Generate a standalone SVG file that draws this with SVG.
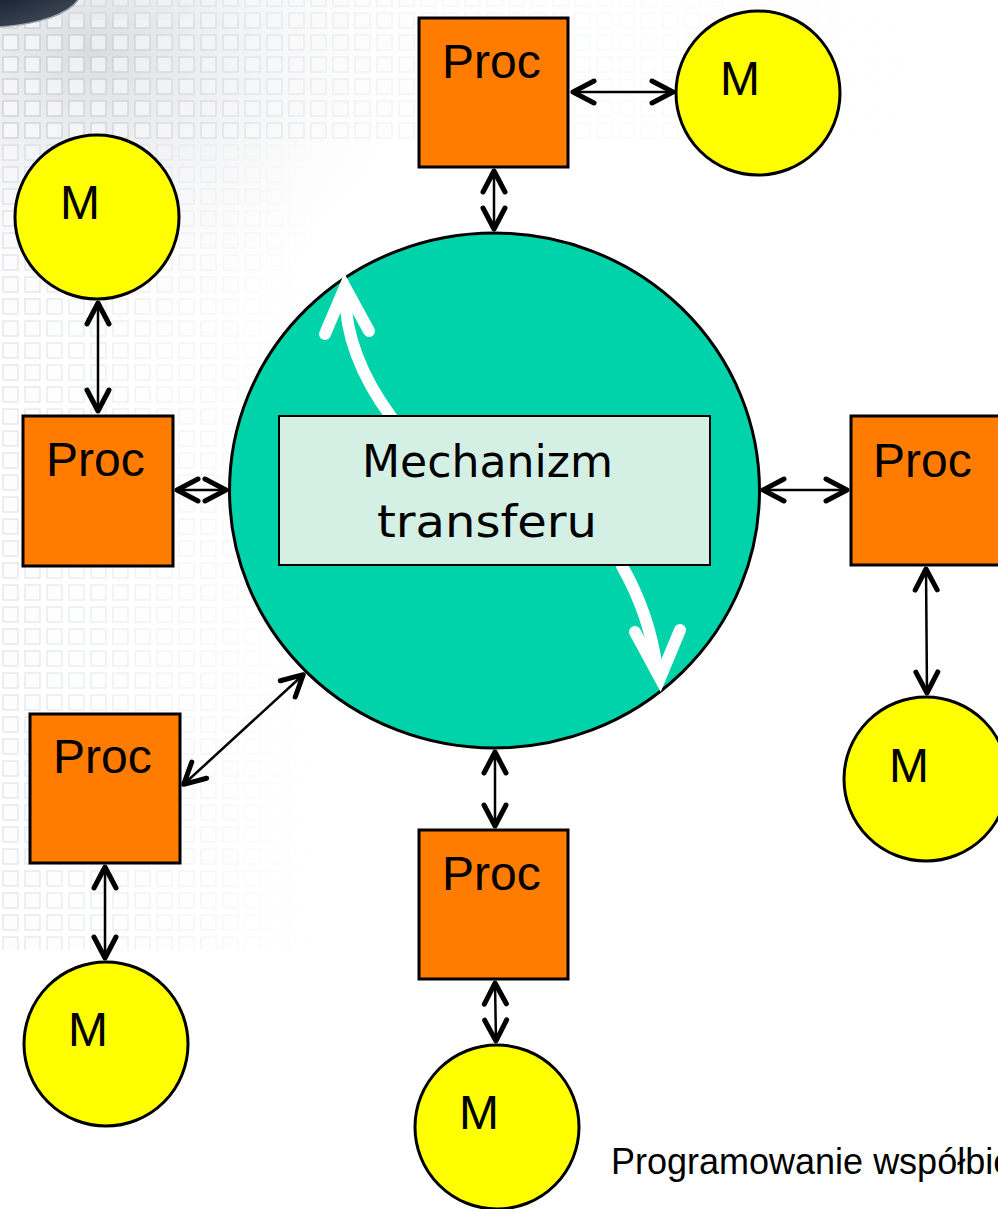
<svg xmlns="http://www.w3.org/2000/svg" width="998" height="1209" viewBox="0 0 998 1209">
<style>
.proc{fill:#FF7C00;stroke:#000;stroke-width:3}
.mem{fill:#FFFF00;stroke:#000;stroke-width:3}
.lbl{font-family:"Liberation Sans",Arial,sans-serif;font-size:48px;fill:#000}
.mech{font-family:"DejaVu Sans","Liberation Sans",sans-serif;font-size:44px;fill:#000}
.conn{stroke:#000;stroke-width:2.5;fill:none;marker-start:url(#head);marker-end:url(#head)}
.white{stroke:#fff;stroke-width:12;fill:none;stroke-linecap:round;stroke-linejoin:miter}
</style>
<defs>
<marker id="head" viewBox="-26 -15 30 30" refX="1" refY="0" markerWidth="30" markerHeight="30" markerUnits="userSpaceOnUse" orient="auto-start-reverse">
<path d="M-21,-11 L0,0 L-21,11" fill="none" stroke="#000" stroke-width="5" stroke-linecap="round" stroke-linejoin="round"/>
</marker>
<pattern id="grid" x="0" y="10" width="22" height="22" patternUnits="userSpaceOnUse">
<rect x="3" y="3" width="15" height="15" fill="#fafbfd" stroke="#b9bec8" stroke-width="1.2"/>
</pattern>
<linearGradient id="fadeX" x1="0" y1="0" x2="1" y2="0">
<stop offset="0" stop-color="#fff" stop-opacity="0.45"/>
<stop offset="0.6" stop-color="#fff" stop-opacity="0.18"/>
<stop offset="1" stop-color="#fff" stop-opacity="0"/>
</linearGradient>
<linearGradient id="fadeTop" x1="0" y1="0" x2="1" y2="0">
<stop offset="0" stop-color="#fff" stop-opacity="0.45"/>
<stop offset="0.5" stop-color="#fff" stop-opacity="0.15"/>
<stop offset="1" stop-color="#fff" stop-opacity="0"/>
</linearGradient>
<mask id="gridMask" maskUnits="userSpaceOnUse" x="0" y="0" width="998" height="1209">
<rect x="0" y="20" width="320" height="930" fill="url(#fadeX)"/>
<rect x="0" y="0" width="960" height="140" fill="url(#fadeTop)"/>
</mask>
<radialGradient id="shade" cx="0.15" cy="0.1" r="0.6">
<stop offset="0" stop-color="#c9ccd2" stop-opacity="0.7"/>
<stop offset="1" stop-color="#ffffff" stop-opacity="0"/>
</radialGradient>
<linearGradient id="dark" x1="0" y1="0" x2="1" y2="1">
<stop offset="0" stop-color="#1c2533"/>
<stop offset="1" stop-color="#4b5563"/>
</linearGradient>
</defs>
<rect x="0" y="0" width="998" height="1209" fill="#fff"/>
<rect x="0" y="0" width="600" height="500" fill="url(#shade)"/>
<rect x="0" y="0" width="998" height="1000" fill="url(#grid)" mask="url(#gridMask)"/>
<path d="M0,0 L78,0 C68,14 40,24 0,27 Z" fill="url(#dark)"/>
<path d="M78,0 C68,14 40,24 0,27" fill="none" stroke="#9aa3ae" stroke-width="1.5"/>

<g id="transfer">
<ellipse cx="494.5" cy="490.5" rx="265" ry="257.5" fill="#00D2AA" stroke="#000" stroke-width="3"/>
<path class="white" d="M392,418 Q345,355 345,292"/>
<path class="white" d="M325,334 L345,287 L369,331"/>
<path class="white" d="M622,566 Q650,615 657,670"/>
<path class="white" d="M635,632 L660,678 L680,630"/>
<rect x="279" y="416" width="431" height="149" fill="#D4EFE4" stroke="#000" stroke-width="2"/>
<text class="mech" x="362" y="477" textLength="251" lengthAdjust="spacingAndGlyphs">Mechanizm</text>
<text class="mech" x="377" y="537" textLength="220" lengthAdjust="spacingAndGlyphs">transferu</text>
</g>

<g id="proc-top"><rect class="proc" x="419" y="18" width="149" height="149"/><text class="lbl" x="442" y="78">Proc</text></g>
<g id="proc-left"><rect class="proc" x="23" y="416" width="150" height="150"/><text class="lbl" x="46" y="476">Proc</text></g>
<g id="proc-right"><rect class="proc" x="851" y="416" width="160" height="149"/><text class="lbl" x="873" y="477">Proc</text></g>
<g id="proc-bottomleft"><rect class="proc" x="30" y="714" width="150" height="149"/><text class="lbl" x="53" y="773">Proc</text></g>
<g id="proc-bottom"><rect class="proc" x="419" y="830" width="149" height="149"/><text class="lbl" x="442" y="890">Proc</text></g>

<g id="mem-topright"><circle class="mem" cx="758" cy="93" r="82"/><text class="lbl" x="720" y="95">M</text></g>
<g id="mem-left"><circle class="mem" cx="97" cy="217" r="82"/><text class="lbl" x="60" y="219">M</text></g>
<g id="mem-right"><circle class="mem" cx="926" cy="779" r="82"/><text class="lbl" x="889" y="782">M</text></g>
<g id="mem-bottomleft"><circle class="mem" cx="106" cy="1044" r="82"/><text class="lbl" x="68" y="1046">M</text></g>
<g id="mem-bottom"><circle class="mem" cx="497" cy="1127" r="82"/><text class="lbl" x="459" y="1129">M</text></g>

<g id="connectors">
<line class="conn" x1="572" y1="92" x2="674" y2="92"/>
<line class="conn" x1="494" y1="170" x2="494" y2="230"/>
<line class="conn" x1="98" y1="302" x2="98" y2="412"/>
<line class="conn" x1="176" y1="490" x2="227" y2="490"/>
<line class="conn" x1="762" y1="490" x2="848" y2="490"/>
<line class="conn" x1="926" y1="568" x2="927" y2="694"/>
<line class="conn" x1="183" y1="785" x2="304" y2="674"/>
<line class="conn" x1="105" y1="866" x2="105" y2="959"/>
<line class="conn" x1="495" y1="751" x2="495" y2="827"/>
<line class="conn" x1="495" y1="982" x2="496" y2="1042"/>
</g>

<text x="611" y="1174" font-family="Liberation Sans, Arial, sans-serif" font-size="36" fill="#000">Programowanie współbieżne</text>
</svg>
